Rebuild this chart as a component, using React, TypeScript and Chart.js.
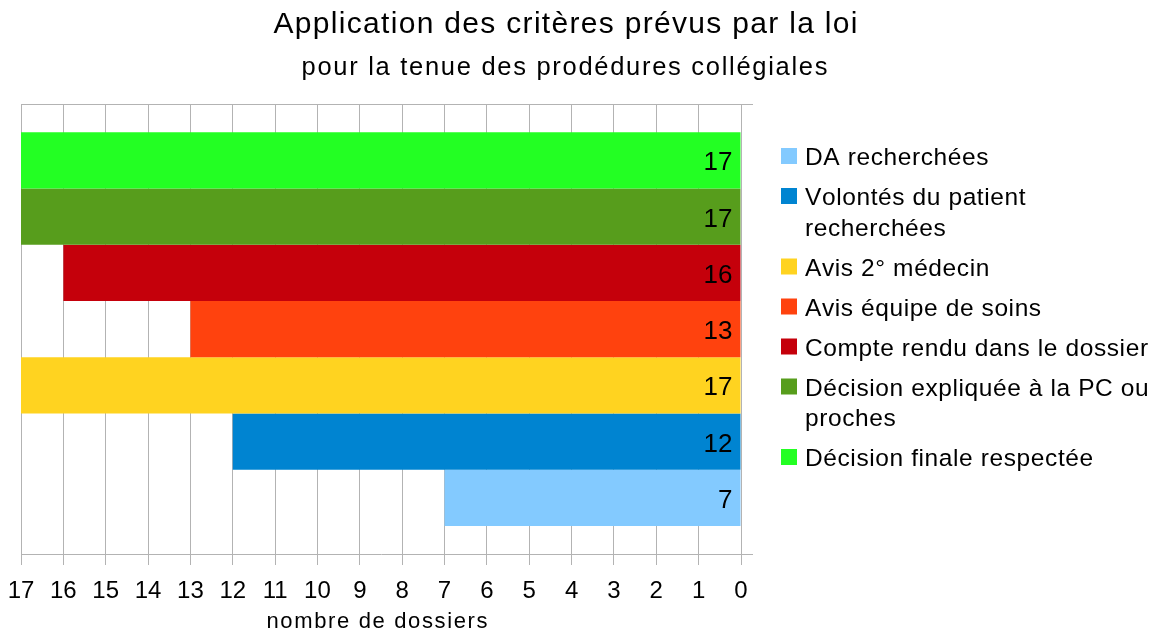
import React, { useEffect, useRef } from "react";
import { Chart, registerables } from "chart.js";

Chart.register(...registerables);

const seriesNames = [
  "DA recherchées",
  "Volontés du patient recherchées",
  "Avis 2° médecin",
  "Avis équipe de soins",
  "Compte rendu dans le dossier",
  "Décision expliquée à la PC ou proches",
  "Décision finale respectée",
];
const seriesValues = [7, 12, 17, 13, 16, 17, 17];
const seriesColors = ["#83caff", "#0084d1", "#ffd320", "#ff420e", "#c5000b", "#579d1c", "#23ff23"];
const categories = [""];
const titleText = "Application des critères prévus par la loi";
const subtitleText = "pour la tenue des prodédures collégiales";
const xAxisTitle = "nombre de dossiers";

const FONT = "'Liberation Sans', Arial, sans-serif";

function textWidth(ctx: CanvasRenderingContext2D, text: string, spacing: number) {
  let w = 0;
  for (const ch of text) w += ctx.measureText(ch).width;
  return w + spacing * (text.length - 1);
}

function drawSpaced(
  ctx: CanvasRenderingContext2D,
  text: string,
  x: number,
  y: number,
  spacing: number,
  align: "left" | "center"
) {
  const total = textWidth(ctx, text, spacing);
  let cx = align === "center" ? x - total / 2 : x;
  ctx.textAlign = "left";
  for (const ch of text) {
    ctx.fillText(ch, cx, y);
    cx += ctx.measureText(ch).width + spacing;
  }
}

function drawFitted(ctx: CanvasRenderingContext2D, text: string, cx: number, y: number, target: number) {
  let w = 0;
  for (const ch of text) w += ctx.measureText(ch).width;
  const spacing = Math.max(0, (target - w) / (text.length - 1));
  drawSpaced(ctx, text, cx, y, spacing, "center");
}

const decorPlugin = {
  id: "decor",
  beforeDatasetsDraw(chart: any) {
    const { ctx, chartArea } = chart;
    ctx.save();
    ctx.strokeStyle = "#b3b3b3";
    ctx.lineWidth = 1;
    ctx.beginPath();
    ctx.moveTo(chartArea.left, Math.round(chartArea.top) + 0.5);
    ctx.lineTo(chartArea.right + 12, Math.round(chartArea.top) + 0.5);
    ctx.moveTo(chartArea.right, Math.round(chartArea.bottom) + 0.5);
    ctx.lineTo(chartArea.right + 12, Math.round(chartArea.bottom) + 0.5);
    ctx.stroke();
    ctx.restore();
  },
  afterDatasetsDraw(chart: any) {
    const { ctx } = chart;
    ctx.save();
    ctx.fillStyle = "#000";
    ctx.font = `26px ${FONT}`;
    ctx.textAlign = "right";
    ctx.textBaseline = "alphabetic";
    chart.data.datasets.forEach((ds: any, i: number) => {
      const meta = chart.getDatasetMeta(i);
      meta.data.forEach((bar: any, j: number) => {
        const v = ds.data[j];
        ctx.fillText(String(v), bar.base - 8, bar.y + 10);
      });
    });
    ctx.restore();
  },
  afterDraw(chart: any) {
    const { ctx, chartArea } = chart;
    ctx.save();
    ctx.fillStyle = "#000";
    ctx.textBaseline = "alphabetic";
    ctx.font = `30px ${FONT}`;
    drawFitted(ctx, titleText, 565.5, 33, 584);
    ctx.font = `25.5px ${FONT}`;
    drawFitted(ctx, subtitleText, 564.5, 75, 526);
    ctx.font = `22px ${FONT}`;
    drawFitted(ctx, xAxisTitle, (chartArea.left + chartArea.right) / 2 - 4, 628, 221);

    // legend
    ctx.font = `24.5px ${FONT}`;
    const spacing = 0.6;
    const textX = 805;
    const maxW = 352;
    let y = 165;
    seriesNames.forEach((name, i) => {
      const words = name.split(" ");
      const lines: string[] = [];
      let cur = "";
      words.forEach((w) => {
        const test = cur ? cur + " " + w : w;
        if (textWidth(ctx, test, spacing) > maxW && cur) {
          lines.push(cur);
          cur = w;
        } else cur = test;
      });
      if (cur) lines.push(cur);
      ctx.fillStyle = seriesColors[i];
      ctx.fillRect(781, y - 17, 16, 16);
      ctx.fillStyle = "#000";
      lines.forEach((ln, k) => {
        drawSpaced(ctx, ln, textX, y + k * 30.5, spacing, "left");
      });
      y += (lines.length - 1) * 30.5 + 40;
    });
    ctx.restore();
  },
};

export default function App() {
  const ref = useRef<HTMLCanvasElement>(null);
  useEffect(() => {
    document.body.style.margin = "0";
    const order = seriesNames.map((_, i) => i).reverse();
    const chart = new Chart(ref.current!, {
      type: "bar",
      data: {
        labels: categories,
        datasets: order.map((i) => ({
          label: seriesNames[i],
          data: [seriesValues[i]],
          backgroundColor: seriesColors[i],
          borderWidth: 0,
        })),
      },
      options: {
        indexAxis: "y",
        animation: false,
        responsive: false,
        maintainAspectRatio: false,
        layout: { padding: { top: 104, left: 21, right: 422, bottom: 0 } },
        datasets: { bar: { categoryPercentage: 0.875, barPercentage: 1 } },
        plugins: {
          legend: { display: false },
          title: { display: false },
          tooltip: { enabled: false },
        },
        scales: {
          x: {
            type: "linear",
            reverse: true,
            min: 0,
            max: 17,
            ticks: {
              stepSize: 1,
              color: "#000",
              font: { family: FONT, size: 24 },
              padding: 12,
            },
            grid: { color: "#b3b3b3", lineWidth: 1, tickLength: 11, drawTicks: true },
            border: { color: "#b3b3b3" },
            title: { display: false },
            afterFit(scale: any) {
              scale.height = 80;
              scale.paddingLeft = 0;
              scale.paddingRight = 0;
            },
          },
          y: { display: false },
        },
      },
      plugins: [decorPlugin],
    });
    return () => chart.destroy();
  }, []);
  return (
    <div style={{ width: 1163, height: 634, position: "relative", background: "#fff" }}>
      <canvas ref={ref} width={1163} height={634} />
    </div>
  );
}
